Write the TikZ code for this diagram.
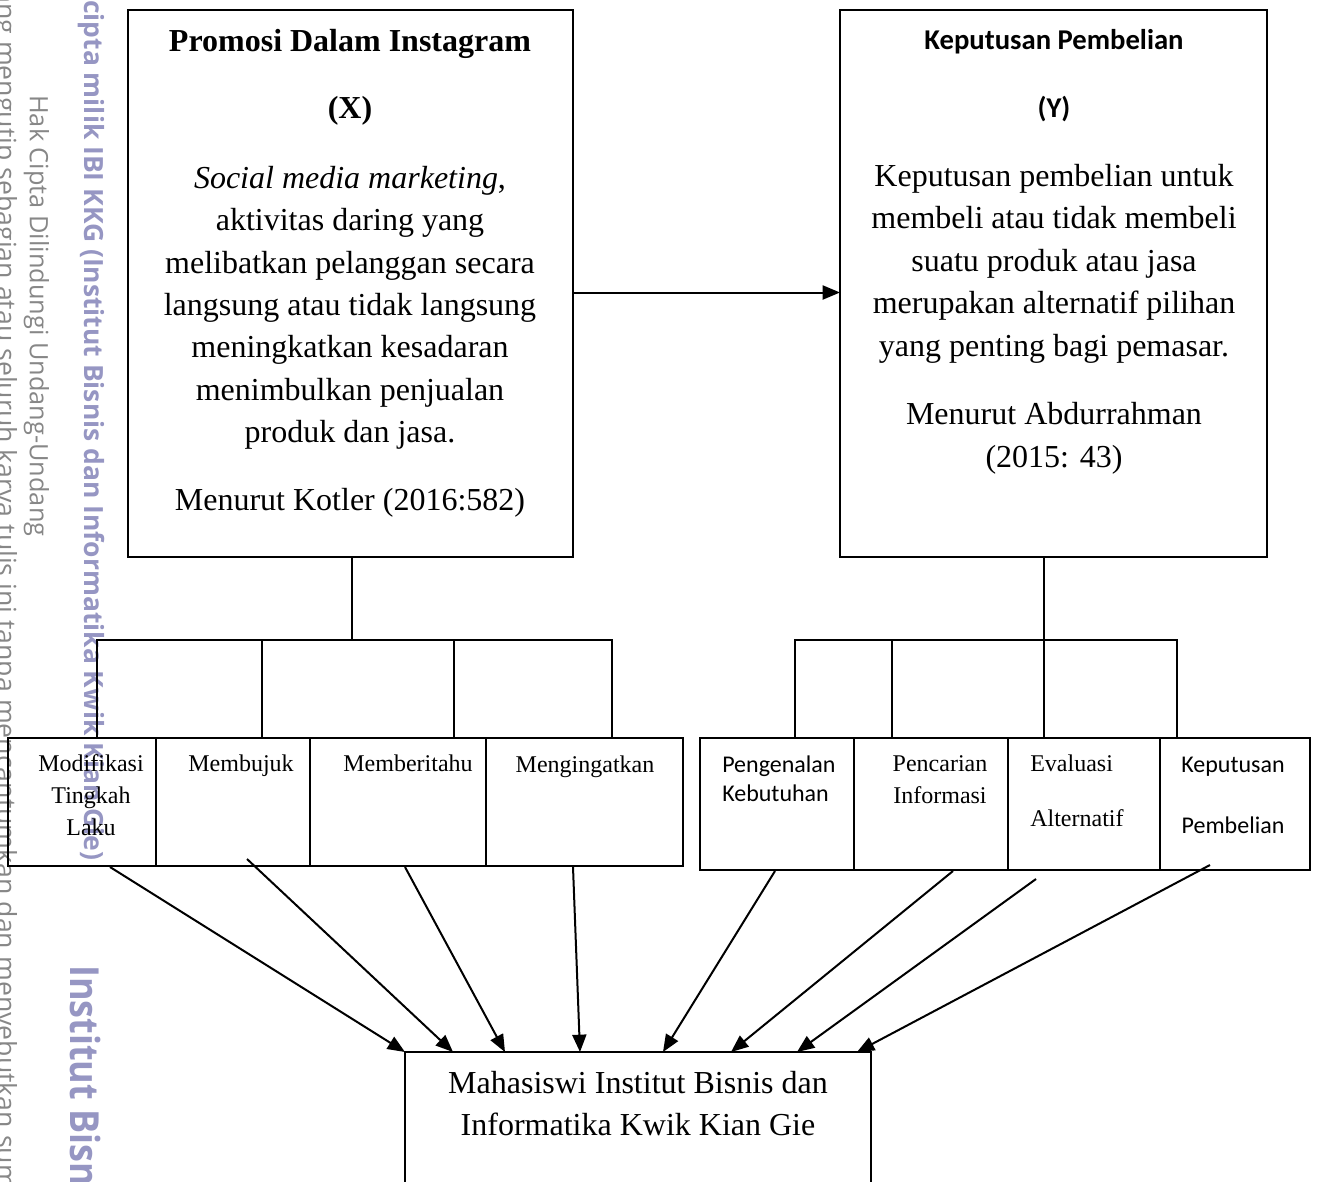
\documentclass[tikz,border=0pt]{standalone}
\usepackage{fontspec}
\setmainfont{Liberation Serif}
\newfontfamily\calfont{Carlito}
\newfontfamily\wmfont{Open Sans}
\usetikzlibrary{arrows.meta}
\definecolor{wmblue}{RGB}{150,150,195}
\definecolor{wmgray}{RGB}{135,135,135}
\begin{document}
\begin{tikzpicture}[x=0.75pt,y=-0.75pt,
 box/.style={draw, line width=1.5pt, rectangle, inner sep=0, outer sep=0},
 conn/.style={line width=1.5pt},
 arr/.style={line width=1.5pt, -{Triangle[length=13pt,width=10.5pt]}},
 body/.style={font=\fontsize{24}{29}\selectfont, anchor=base, inner sep=0},
 bodyb/.style={font=\bfseries\fontsize{24}{29}\selectfont, anchor=base, inner sep=0},
 small/.style={font=\fontsize{18}{22}\selectfont, anchor=base, inner sep=0},
 calsmall/.style={font=\calfont\fontsize{18}{22}\selectfont, anchor=base, inner sep=0},
 caltitle/.style={font=\calfont\bfseries\fontsize{21.5}{26}\selectfont, anchor=base, inner sep=0},
 wmthin/.style={rotate=-90, anchor=base west, inner sep=0, text=wmgray, font=\wmfont\fontsize{19}{22}\selectfont},
 wmbold/.style={rotate=-90, anchor=base west, inner sep=0, text=wmblue, font=\wmfont\bfseries\fontsize{18}{22}\selectfont},
 wmbig/.style={rotate=-90, anchor=base west, inner sep=0, text=wmblue, font=\wmfont\bfseries\fontsize{30}{34}\selectfont},
]
\useasboundingbox (0,0) rectangle (1318,1182);
\fill[white] (0,0) rectangle (1318,1182);

% watermark
\node[wmthin, font=\wmfont\fontsize{20}{22}\selectfont] (w1) at (-3,-70) {Dilarang mengutip sebagian atau seluruh karya tulis ini tanpa mencantumkan dan menyebutkan sumber};
\node[wmthin] (w2) at (30,95) {Hak Cipta Dilindungi Undang-Undang};
\node[wmbold] (w3) at (84,0) {\resizebox{645pt}{!}{cipta milik IBI KKG (Institut Bisnis dan Informatika Kwik Kian Gie)}};
\node[wmbig] (w4) at (70,965) {\scalebox{0.9}[1]{Institut Bisnis dan Informatika Kwik Kian Gie}};

% main boxes
\node[box, minimum width=445*0.75pt, minimum height=547*0.75pt] (X) at (350.5,283.5) {};
\node[box, minimum width=427*0.75pt, minimum height=547*0.75pt] (Y) at (1053.5,283.5) {};

% X texts
\node[bodyb] (xt) at (350,51) {Promosi Dalam Instagram};
\node[bodyb] (xv) at (350,118) {(X)};
\node[body] (x1) at (350,188) {\textit{Social media marketing},};
\node[body] (x2) at (350,230) {aktivitas daring yang};
\node[body] (x3) at (350,273) {melibatkan pelanggan secara};
\node[body] (x4) at (350,315) {langsung atau tidak langsung};
\node[body] (x5) at (350,357) {meningkatkan kesadaran};
\node[body] (x6) at (350,400) {menimbulkan penjualan};
\node[body] (x7) at (350,442) {produk dan jasa.};
\node[body] (x8) at (350,510) {Menurut Kotler (2016:582)};

% Y texts
\node[caltitle] (yt) at (1054,49) {Keputusan Pembelian};
\node[caltitle] (yv) at (1054,117) {(Y)};
\node[body] (y1) at (1054,186) {Keputusan pembelian untuk};
\node[body] (y2) at (1054,228) {membeli atau tidak membeli};
\node[body] (y3) at (1054,271) {suatu produk atau jasa};
\node[body] (y4) at (1054,313) {merupakan alternatif pilihan};
\node[body] (y5) at (1054,356) {yang penting bagi pemasar.};
\node[body] (y6) at (1054,424) {Menurut Abdurrahman};
\node[body] (y7) at (1054,467) {(2015: 43)};

% small boxes left
\node[box, minimum width=148*0.75pt, minimum height=128*0.75pt] (L1) at (82,802) {};
\node[box, minimum width=154*0.75pt, minimum height=128*0.75pt] (L2) at (233,802) {};
\node[box, minimum width=176*0.75pt, minimum height=128*0.75pt] (L3) at (398,802) {};
\node[box, minimum width=197*0.75pt, minimum height=128*0.75pt] (L4) at (584.5,802) {};
% small boxes right
\node[box, minimum width=154*0.75pt, minimum height=132*0.75pt] (R1) at (777,804) {};
\node[box, minimum width=154*0.75pt, minimum height=132*0.75pt] (R2) at (931,804) {};
\node[box, minimum width=152*0.75pt, minimum height=132*0.75pt] (R3) at (1084,804) {};
\node[box, minimum width=150*0.75pt, minimum height=132*0.75pt] (R4) at (1235,804) {};

% small box texts
\node[small] (l1a) at (91,771) {Modifikasi};
\node[small] (l1b) at (91,803) {Tingkah};
\node[small] (l1c) at (91,835) {Laku};
\node[small] (l2a) at (241,771) {Membujuk};
\node[small] (l3a) at (408,771) {Memberitahu};
\node[small] (l4a) at (585,772) {Mengingatkan};
\node[calsmall, anchor=base west] (r1a) at (722,772) {Pengenalan};
\node[calsmall, anchor=base west] (r1b) at (722,801) {Kebutuhan};
\node[small] (r2a) at (940,771) {Pencarian};
\node[small] (r2b) at (940,803) {Informasi};
\node[small, anchor=base west] (r3a) at (1030,771) {Evaluasi};
\node[small, anchor=base west] (r3b) at (1030,826) {Alternatif};
\node[calsmall] (r4a) at (1233,772) {Keputusan};
\node[calsmall] (r4b) at (1233,833) {Pembelian};

% bottom box
\node[box, minimum width=466*0.75pt, minimum height=160*0.75pt] (M) at (638,1132) {};
\node[body] (m1) at (638,1093) {Mahasiswi Institut Bisnis dan};
\node[body] (m2) at (638,1135) {Informatika Kwik Kian Gie};

% tree connectors
\coordinate (jl) at (352,640);
\coordinate (t1) at (97,640);
\coordinate (t2) at (262,640);
\coordinate (t3) at (454,640);
\coordinate (t4) at (612,640);
\draw[conn] (jl |- X.south) -- (jl);
\draw[conn] (L1.north -| t1) -- (t1) -- (t4) -- (L4.north -| t4);
\draw[conn] (t2) -- (L2.north -| t2);
\draw[conn] (t3) -- (L3.north -| t3);

\coordinate (r1) at (795,640);
\coordinate (r2) at (892,640);
\coordinate (r3) at (1044,640);
\coordinate (r4) at (1177,640);
\draw[conn] (r3 |- Y.south) -- (R3.north -| r3);
\draw[conn] (R1.north -| r1) -- (r1) -- (r4) -- (R4.north -| r4);
\draw[conn] (r2) -- (R2.north -| r2);

% X to Y
\draw[arr] ([yshift=-6.75pt]X.east) -- ([yshift=-6.75pt]Y.west);

% arrows to M
\coordinate (a1) at (110,867);
\coordinate (a2) at (247,859);
\coordinate (a3) at (405,867);
\coordinate (a4) at (573,867);
\coordinate (b1) at (775,871);
\coordinate (b2) at (953,871);
\coordinate (b3) at (1036,879);
\coordinate (b4) at (1210,865);
\coordinate (e1) at (405,1052);
\coordinate (e2) at (453,1052);
\coordinate (e3) at (505,1052);
\coordinate (e4) at (580,1052);
\coordinate (f1) at (663,1052);
\coordinate (f2) at (731,1052);
\coordinate (f3) at (797,1052);
\coordinate (f4) at (857,1052);
\draw[arr] (a1) -- (e1);
\draw[arr] (a2) -- (e2);
\draw[arr] (a3) -- (e3);
\draw[arr] (a4) -- (e4);
\draw[arr] (b1) -- (f1);
\draw[arr] (b2) -- (f2);
\draw[arr] (b3) -- (f3);
\draw[arr] (b4) -- (f4);
\end{tikzpicture}
\end{document}
